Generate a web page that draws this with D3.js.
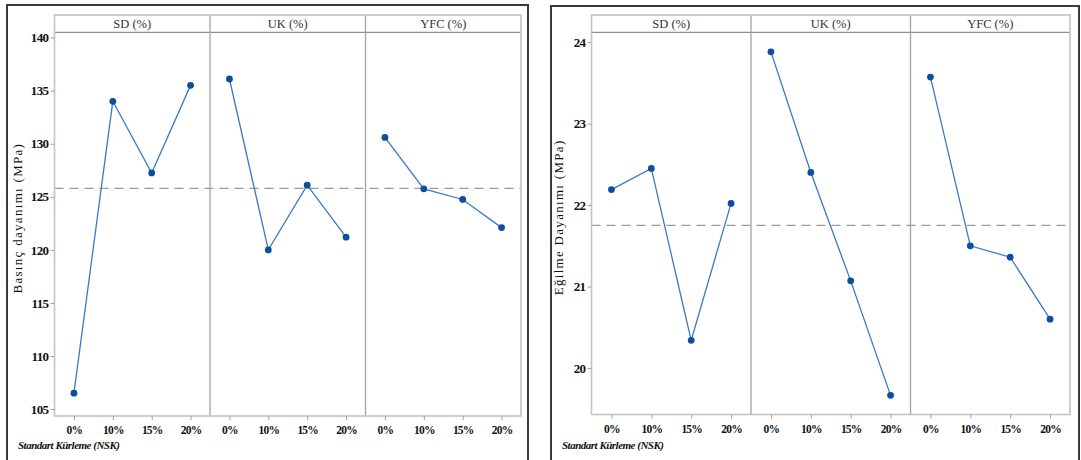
<!DOCTYPE html>
<html>
<head>
<meta charset="utf-8">
<script src="https://cdn.jsdelivr.net/npm/d3@7"></script>
<style>
  html, body { margin: 0; padding: 0; background: #fff; }
  svg { display: block; }
  .tick-y { font-family: "Liberation Serif", "DejaVu Serif", serif; font-weight: bold; font-size: 13px; letter-spacing: -0.6px; fill: #111; }
  .tick-x { font-family: "Liberation Serif", "DejaVu Serif", serif; font-weight: bold; font-size: 11.5px; letter-spacing: -0.8px; fill: #111; }
  .strip { font-family: "Liberation Serif", "DejaVu Serif", serif; font-size: 12.5px; fill: #333; }
  .ytitle { font-family: "Liberation Serif", "DejaVu Serif", serif; font-size: 13px; letter-spacing: 1.3px; fill: #111; }
  .xnote { font-family: "Liberation Serif", "DejaVu Serif", serif; font-weight: bold; font-style: italic; font-size: 11px; letter-spacing: -0.5px; fill: #111; }
</style>
</head>
<body>
<svg id="chart" width="1081" height="460"></svg>
<script>
// Factor levels (x positions inside each panel) and panel headers
const levels = ["0%", "10%", "15%", "20%"];
const factors = ["SD (%)", "UK (%)", "YFC (%)"];

// Main-effect means: compressive strength (MPa)
const compSD  = [106.5, 134.0, 127.25, 135.5];
const compUK  = [136.1, 120.0, 126.1, 121.2];
const compYFC = [130.6, 125.75, 124.75, 122.1];
const compMean = 125.8;
const compTicks = [105, 110, 115, 120, 125, 130, 135, 140];

// Main-effect means: flexural strength (MPa)
const flexSD  = [22.19, 22.45, 20.34, 22.02];
const flexUK  = [23.88, 22.40, 21.07, 19.665];
const flexYFC = [23.57, 21.50, 21.36, 20.60];
const flexMean = 21.75;
const flexTicks = [20, 21, 22, 23, 24];

const compTitle = "Basınç dayanımı (MPa)";
const flexTitle = "Eğilme Dayanımı (MPa)";
const baseNote = "Standart Kürleme (NSK)";

const svg = d3.select("#chart");

function drawPanelChart(cfg) {
  const g = svg.append("g");

  // outer frame of the figure
  g.append("path")
    .attr("d", `M${cfg.box[0]},470 V${cfg.boxTop} H${cfg.box[1]} V470`)
    .attr("fill", "none").attr("stroke", "#3a3a3a").attr("stroke-width", 2);

  const y = d3.scaleLinear().domain(cfg.yDomain).range([cfg.bottom, cfg.stripBottom]);
  const panel = d3.scaleBand().domain(factors).range([cfg.left, cfg.right]);
  const x = d3.scalePoint().domain(levels).range([0, panel.bandwidth()]).padding(0.5);

  // mean reference line
  g.append("line")
    .attr("x1", cfg.left).attr("x2", cfg.right)
    .attr("y1", y(cfg.mean)).attr("y2", y(cfg.mean))
    .attr("stroke", "#9a9a9a").attr("stroke-width", 1.2).attr("stroke-dasharray", "9,6");

  // strip header band
  g.append("line")
    .attr("x1", cfg.left).attr("x2", cfg.right)
    .attr("y1", cfg.stripBottom).attr("y2", cfg.stripBottom)
    .attr("stroke", "#8e8e8e").attr("stroke-width", 1.2);

  // panel separators
  factors.slice(1).forEach(f => {
    g.append("line")
      .attr("x1", panel(f)).attr("x2", panel(f))
      .attr("y1", cfg.top).attr("y2", cfg.bottom)
      .attr("stroke", "#a2a2a2").attr("stroke-width", 1.3);
  });

  // plot frame
  g.append("rect")
    .attr("x", cfg.left).attr("y", cfg.top)
    .attr("width", cfg.right - cfg.left).attr("height", cfg.bottom - cfg.top)
    .attr("fill", "none").attr("stroke", "#c4c4c4").attr("stroke-width", 1.6);

  // strip labels
  factors.forEach(f => {
    g.append("text").attr("class", "strip")
      .attr("x", panel(f) + panel.bandwidth() / 2)
      .attr("y", (cfg.top + cfg.stripBottom) / 2 + 4.5)
      .attr("text-anchor", "middle").text(f);
  });

  // y axis
  const yAxis = d3.axisLeft(y).tickValues(cfg.ticks).tickSize(4).tickPadding(2).tickFormat(d3.format("d"));
  const ya = g.append("g").attr("transform", `translate(${cfg.left},0)`).call(yAxis);
  ya.select(".domain").remove();
  ya.selectAll("line").attr("stroke", "#a0a0a0");
  ya.selectAll("text").attr("class", "tick-y").attr("font-family", null).attr("font-size", null);

  // x axes, one per panel
  factors.forEach(f => {
    const xAxis = d3.axisBottom(x).tickSize(4).tickPadding(6);
    const xa = g.append("g").attr("transform", `translate(${panel(f)},${cfg.bottom})`).call(xAxis);
    xa.select(".domain").remove();
    xa.selectAll("line").attr("stroke", "#a0a0a0");
    xa.selectAll("text").attr("class", "tick-x").attr("font-family", null).attr("font-size", null);
  });

  // series lines and points
  const line = d3.line().x((d, i) => x(levels[i])).y(d => y(d));
  cfg.series.forEach((vals, k) => {
    const pg = g.append("g").attr("transform", `translate(${panel(factors[k])},0)`);
    pg.append("path").attr("d", line(vals))
      .attr("fill", "none").attr("stroke", "#3a79c6").attr("stroke-width", 1.3);
    pg.selectAll("circle").data(vals).join("circle")
      .attr("cx", (d, i) => x(levels[i])).attr("cy", d => y(d))
      .attr("r", 3.4).attr("fill", "#0c4f9f");
  });

  // y title
  const cy = (cfg.stripBottom + cfg.bottom) / 2 - 6;
  g.append("text").attr("class", "ytitle")
    .attr("transform", `translate(${cfg.titleX},${cy}) rotate(-90)`)
    .attr("text-anchor", "middle").text(cfg.title);

  // base note under the first panel
  g.append("text").attr("class", "xnote")
    .attr("x", cfg.noteX).attr("y", 449).text(baseNote);
}

drawPanelChart({
  box: [7, 528], boxTop: 5,
  left: 54.5, right: 521, top: 15, stripBottom: 32.3, bottom: 416,
  yDomain: [104.35, 140.5], ticks: compTicks, mean: compMean,
  series: [compSD, compUK, compYFC],
  title: compTitle, titleX: 22, noteX: 18
});

drawPanelChart({
  box: [551, 1079], boxTop: 6,
  left: 591.5, right: 1070, top: 15, stripBottom: 32.3, bottom: 414.5,
  yDomain: [19.43, 24.12], ticks: flexTicks, mean: flexMean,
  series: [flexSD, flexUK, flexYFC],
  title: flexTitle, titleX: 563, noteX: 562
});
</script>
</body>
</html>
